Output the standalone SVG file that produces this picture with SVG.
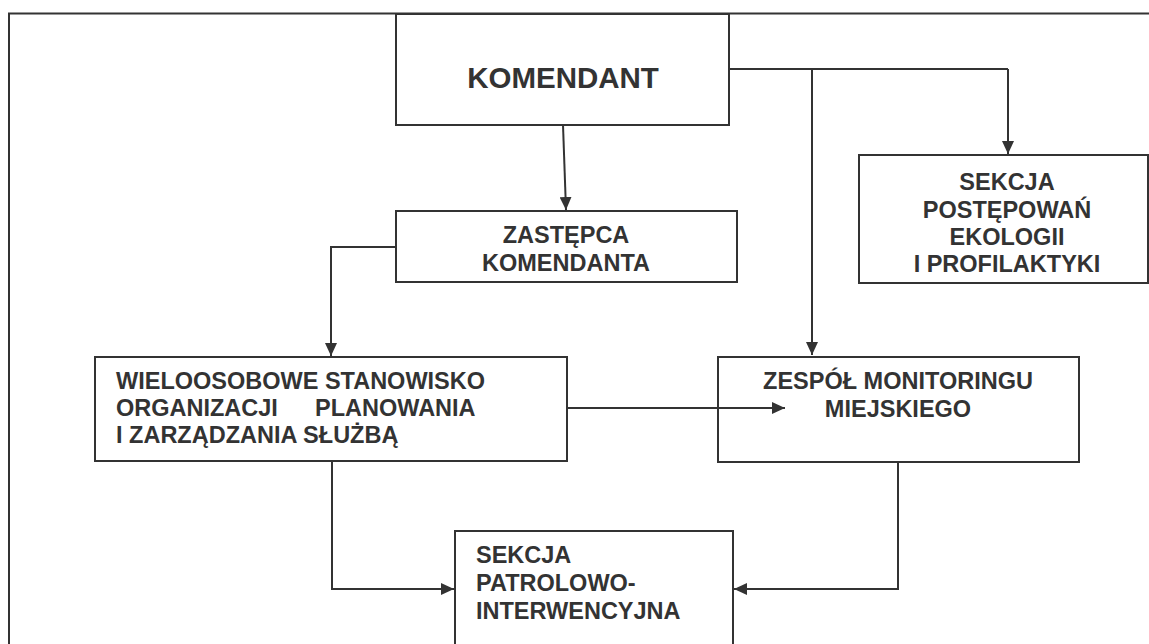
<svg xmlns="http://www.w3.org/2000/svg" width="1149" height="644" viewBox="0 0 1149 644">
<defs>
<marker id="ah" markerWidth="14" markerHeight="12" refX="13" refY="6" orient="auto" markerUnits="userSpaceOnUse">
<path d="M0,0 L13,6 L0,12 Z" fill="#333"/>
</marker>
<style>
.box{fill:#fff;stroke:#333;stroke-width:2}
.t{font-family:"Liberation Sans",Arial,sans-serif;font-weight:bold;font-size:23.5px;fill:#333}
.c{text-anchor:middle}
.big{font-size:29.5px}
.ln{fill:none;stroke:#333;stroke-width:2}
.arr{fill:none;stroke:#333;stroke-width:2;marker-end:url(#ah)}
</style>
</defs>
<rect width="1149" height="644" fill="#fff"/>
<g id="frame">
<path class="ln" d="M9,644 V13.5 H1149"/>
</g>
<g id="komendant">
<rect class="box" x="396" y="14" width="333" height="111"/>
<text class="t c big" x="563" y="88">KOMENDANT</text>
</g>
<g id="zastepca">
<rect class="box" x="396" y="211" width="341" height="71"/>
<text class="t c" x="566" y="243">ZASTĘPCA</text>
<text class="t c" x="566" y="271">KOMENDANTA</text>
</g>
<g id="sekcja-postepowan">
<rect class="box" x="859" y="155" width="289" height="128"/>
<text class="t c" x="1007" y="190">SEKCJA</text>
<text class="t c" x="1007" y="217.5">POSTĘPOWAŃ</text>
<text class="t c" x="1007" y="245">EKOLOGII</text>
<text class="t c" x="1007" y="272">I PROFILAKTYKI</text>
</g>
<g id="wieloosobowe">
<rect class="box" x="95" y="357" width="472" height="104"/>
<text class="t" x="116" y="389">WIELOOSOBOWE STANOWISKO</text>
<text class="t" x="116" y="416">ORGANIZACJI<tspan x="315">PLANOWANIA</tspan></text>
<text class="t" x="116" y="443">I ZARZĄDZANIA SŁUŻBĄ</text>
</g>
<g id="zespol">
<rect class="box" x="718" y="357" width="361" height="105"/>
<text class="t c" x="898" y="389">ZESPÓŁ MONITORINGU</text>
<text class="t c" x="898" y="417">MIEJSKIEGO</text>
</g>
<g id="sekcja-patrolowo">
<rect class="box" x="455" y="531" width="278" height="130"/>
<text class="t" x="476" y="563">SEKCJA</text>
<text class="t" x="476" y="591">PATROLOWO-</text>
<text class="t" x="476" y="619">INTERWENCYJNA</text>
</g>
<g id="connectors">
<path class="arr" d="M563,125 L566,210"/>
<path class="ln" d="M729,69 H1008"/>
<path class="arr" d="M1008,69 V154"/>
<path class="arr" d="M812,69 V355"/>
<path class="arr" d="M396,247 H331 V356"/>
<path class="arr" d="M567,408 H785"/>
<path class="arr" d="M332,461 V589 H454"/>
<path class="arr" d="M898,462 V589 H734"/>
</g>
</svg>
